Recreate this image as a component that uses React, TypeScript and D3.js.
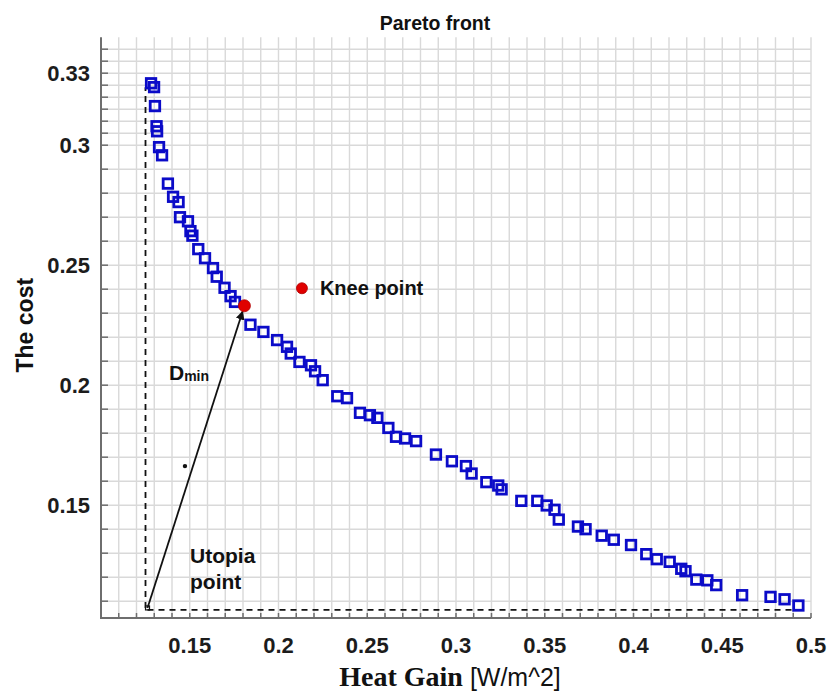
import React from 'react';
import * as d3 from 'd3';

// Pareto front points (heat gain, cost)
const heatGain = [
  0.1282, 0.1299, 0.1304, 0.1313, 0.1316, 0.1327, 0.1344, 0.1377, 0.1406, 0.1437,
  0.1445, 0.1490, 0.1504, 0.1515, 0.1548, 0.1586, 0.1631, 0.1652, 0.1696, 0.1730,
  0.1755, 0.1842, 0.1915, 0.1992, 0.2048, 0.2069, 0.2118, 0.2183, 0.2206, 0.2249,
  0.2331, 0.2386, 0.2459, 0.2515, 0.2557, 0.2619, 0.2662, 0.2713, 0.2775, 0.2887,
  0.2977, 0.3056, 0.3088, 0.3171, 0.3238, 0.3257, 0.3368, 0.3458, 0.3511, 0.3555,
  0.3579, 0.3687, 0.3730, 0.3821, 0.3889, 0.3986, 0.4072, 0.4131, 0.4204, 0.4269,
  0.4293, 0.4354, 0.4416, 0.4466, 0.4612, 0.4772, 0.4851, 0.4929,
];
const cost = [
  0.3258, 0.3242, 0.3163, 0.3079, 0.3058, 0.2992, 0.2958, 0.2840, 0.2785, 0.2763,
  0.2700, 0.2683, 0.2642, 0.2623, 0.2567, 0.2529, 0.2488, 0.2452, 0.2406, 0.2371,
  0.2347, 0.2252, 0.2222, 0.2188, 0.2160, 0.2132, 0.2097, 0.2083, 0.2058, 0.2021,
  0.1954, 0.1946, 0.1885, 0.1875, 0.1864, 0.1822, 0.1785, 0.1778, 0.1767, 0.1711,
  0.1683, 0.1663, 0.1632, 0.1596, 0.1582, 0.1566, 0.1518, 0.1518, 0.1499, 0.1481,
  0.1440, 0.1411, 0.1400, 0.1373, 0.1356, 0.1334, 0.1296, 0.1275, 0.1264, 0.1235,
  0.1225, 0.1190, 0.1187, 0.1167, 0.1125, 0.1118, 0.1108, 0.1082,
];

const kneePoint = [0.1808, 0.2331];
const utopiaPoint = [0.1262, 0.1072];
const strayDot = [0.1473, 0.1663];
const kneeLegend = [0.2132, 0.2404];

const xTicks = [0.15, 0.2, 0.25, 0.3, 0.35, 0.4, 0.45, 0.5];
const xTickLabels = ['0.15', '0.2', '0.25', '0.3', '0.35', '0.4', '0.45', '0.5'];
const yTicks = [0.15, 0.2, 0.25, 0.3, 0.33];
const yTickLabels = ['0.15', '0.2', '0.25', '0.3', '0.33'];

const W = 829, H = 693;
const x = d3.scaleLinear().domain([0.1, 0.5]).range([101, 811]);
const y = d3.scaleLinear().domain([0.103, 0.345]).range([618, 37.2]);

const r3 = (v: number) => Math.round(v * 1000) / 1000;
const xGrid = d3.range(11, 51).map(i => r3(i / 100));
const yGrid = d3.range(11, 30).map(i => r3(i / 100))
  .concat(d3.range(60, 69).map(i => r3(i / 200)));

const sans = 'Liberation Sans, Arial, sans-serif';
const serif = 'Liberation Serif, Times New Roman, serif';
const blue = '#0b0bc8';

export default function App() {
  const left = x.range()[0], right = x.range()[1];
  const bottom = y.range()[0], top = y.range()[1];

  const ux = x(utopiaPoint[0]), uy = y(utopiaPoint[1]);
  const kx = x(kneePoint[0]), ky = y(kneePoint[1]);
  const len = Math.hypot(kx - ux, ky - uy);
  const ax = kx - (kx - ux) / len * 6;
  const ay = ky - (ky - uy) / len * 6;

  const maxCost = d3.max(cost) as number;
  const maxGain = d3.max(heatGain) as number;
  const sq = 9.5;

  return (
    <svg width={W} height={H} style={{ position: 'absolute', left: 0, top: 0, background: '#fff' }}>
      <defs>
        <marker id="arrow" viewBox="0 0 10 10" refX="9" refY="5" markerWidth="9" markerHeight="9"
          markerUnits="userSpaceOnUse" orient="auto">
          <path d="M0,0 L10,5 L0,10 z" fill="#111" />
        </marker>
      </defs>

      {/* grid */}
      <g stroke="#d9d9d9" strokeWidth={1.4}>
        {xGrid.map(v => <line key={'gx' + v} x1={x(v)} x2={x(v)} y1={top} y2={bottom} />)}
        {yGrid.map(v => <line key={'gy' + v} x1={left} x2={right} y1={y(v)} y2={y(v)} />)}
      </g>

      {/* axes */}
      <g stroke="#6e6e6e" strokeWidth={2}>
        <line x1={left} x2={left} y1={top} y2={bottom + 1} />
        <line x1={left - 1} x2={right} y1={bottom} y2={bottom} />
        {xGrid.map(v => <line key={'tx' + v} x1={x(v)} x2={x(v)} y1={bottom} y2={bottom - 5} strokeWidth={1.5} />)}
        {yGrid.map(v => <line key={'ty' + v} x1={left} x2={left + 7} y1={y(v)} y2={y(v)} strokeWidth={1.5} />)}
      </g>

      {/* tick labels */}
      <g fontFamily={sans} fontWeight="bold" fontSize={22} fill="#1c1c1c">
        {xTicks.map((v, i) => (
          <text key={'xl' + v} x={x(v)} y={653} textAnchor="middle">{xTickLabels[i]}</text>
        ))}
        {yTicks.map((v, i) => (
          <text key={'yl' + v} x={90} y={y(v)} dy="0.36em" textAnchor="end">{yTickLabels[i]}</text>
        ))}
      </g>

      {/* titles */}
      <text x={435} y={30} textAnchor="middle" fontFamily={sans} fontWeight="bold" fontSize={19.5} fill="#111">Pareto front</text>
      <text transform={`translate(33,${y(0.2)-60}) rotate(-90)`} textAnchor="middle" fontFamily={sans}
        fontWeight="bold" fontSize={23} fill="#111">The cost</text>
      <text x={450} y={686} textAnchor="middle" fill="#111">
        <tspan fontFamily={serif} fontWeight="bold" fontSize={28}>Heat Gain </tspan>
        <tspan fontFamily={sans} fontSize={25}>[W/m^2]</tspan>
      </text>

      {/* dashed guides from utopia point */}
      <g stroke="#111" strokeWidth={1.8} strokeDasharray="6,5" fill="none">
        <line x1={ux - 2} x2={ux - 2} y1={uy} y2={y(maxCost) + 4} />
        <line x1={ux} x2={x(maxGain) + 6} y1={uy + 2} y2={uy + 2} />
      </g>
      <rect x={ux - 2} y={uy - 2} width={4} height={4} fill="none" stroke="#111" strokeWidth={1.2} />

      {/* pareto squares */}
      <g fill="none" stroke={blue} strokeWidth={2.8}>
        {heatGain.map((g, i) => (
          <rect key={'p' + i} x={x(g) - sq / 2} y={y(cost[i]) - sq / 2} width={sq} height={sq} />
        ))}
      </g>

      {/* D_min arrow */}
      <line x1={ux} y1={uy} x2={ax} y2={ay} stroke="#111" strokeWidth={1.8} markerEnd="url(#arrow)" />
      <circle cx={x(strayDot[0])} cy={y(strayDot[1])} r={2.2} fill="#111" />

      {/* knee point */}
      <circle cx={kx} cy={ky} r={6} fill="#e00000" stroke="#b00000" strokeWidth={0.8} />
      <circle cx={x(kneeLegend[0])} cy={y(kneeLegend[1])} r={5.5} fill="#e00000" stroke="#b00000" strokeWidth={0.8} />
      <text x={x(kneeLegend[0]) + 18} y={y(kneeLegend[1])} dy="0.36em" fontFamily={sans} fontWeight="bold"
        fontSize={20} fill="#111">Knee point</text>

      {/* annotations */}
      <text x={169} y={380} fontFamily={sans} fontWeight="bold" fill="#111">
        <tspan fontSize={21}>D</tspan>
        <tspan fontSize={14} dy={1}>min</tspan>
      </text>
      <text fontFamily={sans} fontWeight="bold" fontSize={21} fill="#111">
        <tspan x={190} y={563}>Utopia</tspan>
        <tspan x={190} y={589}>point</tspan>
      </text>
    </svg>
  );
}
